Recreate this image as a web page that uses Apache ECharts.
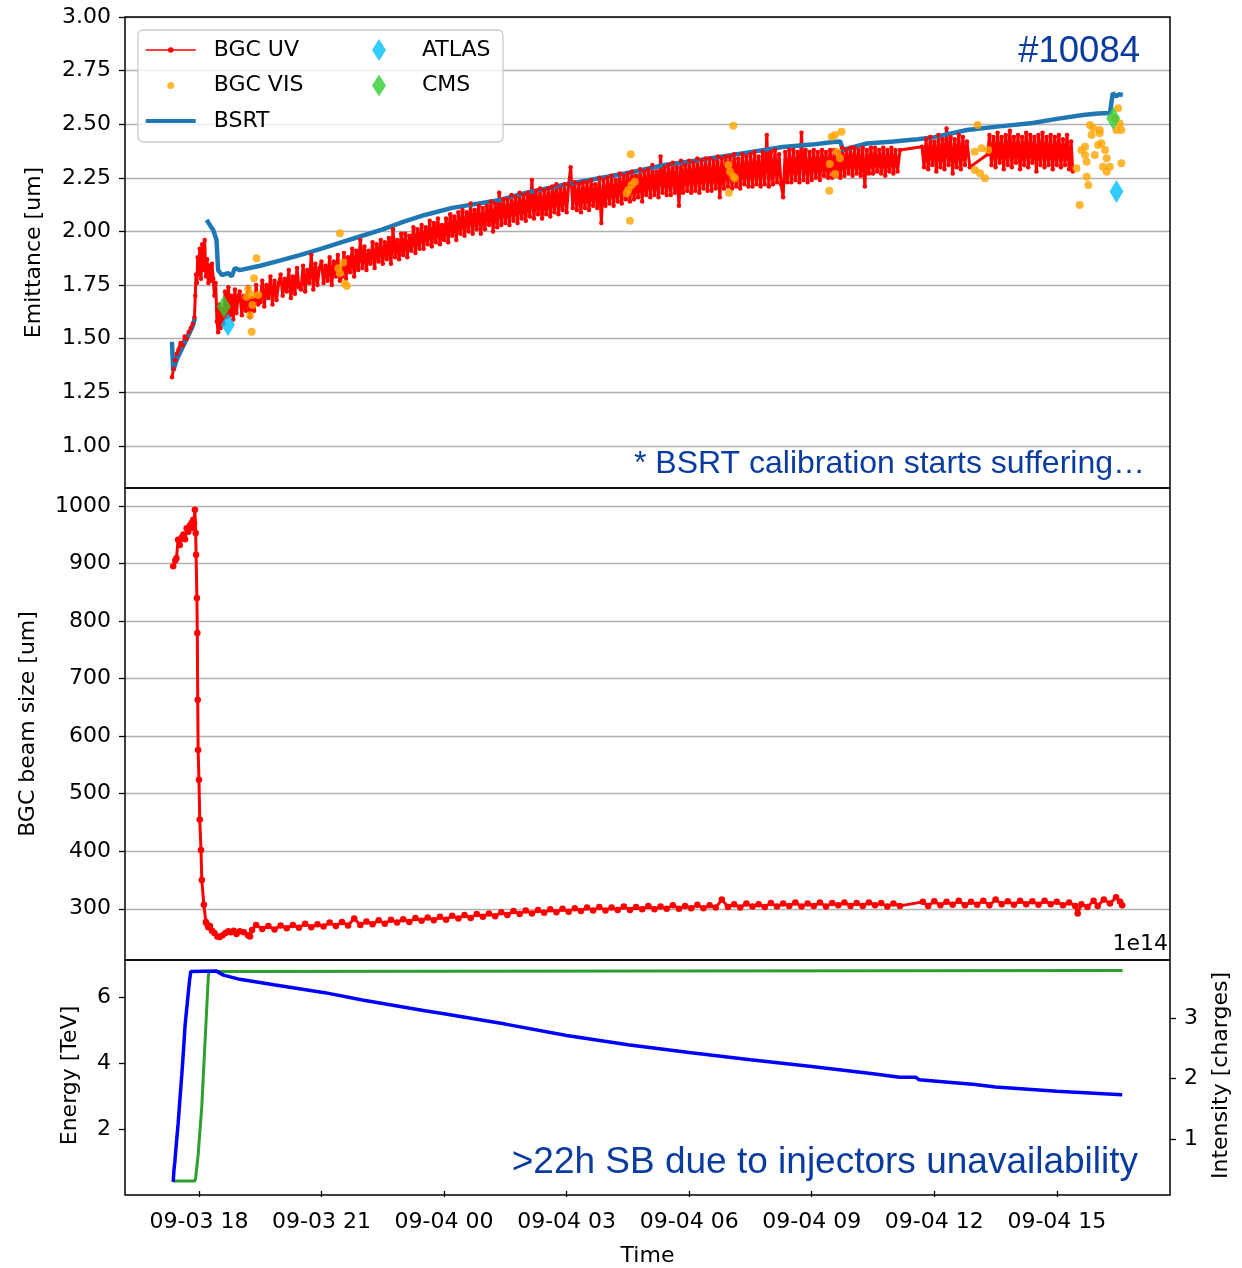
<!DOCTYPE html>
<html><head><meta charset="utf-8">
<script src="https://cdn.jsdelivr.net/npm/echarts@6/dist/echarts.min.js"></script>
<style>html,body{margin:0;padding:0;background:#fff}#c{width:1242px;height:1268px}</style>
</head><body><div id="c"></div>
<script>
// ---- DATA (time in hours since 09-03 00:00) ----
const xTickHours = [18, 21, 24, 27, 30, 33, 36, 39];
const xTickLabels = ['09-03 18', '09-03 21', '09-04 00', '09-04 03', '09-04 06', '09-04 09', '09-04 12', '09-04 15'];
const emitTicks = [1.00, 1.25, 1.50, 1.75, 2.00, 2.25, 2.50, 2.75, 3.00];
const sizeTicks = [300, 400, 500, 600, 700, 800, 900, 1000];
const energyTicks = [2, 4, 6];
const intensityTicks = [1, 2, 3];

const bgcUV = [
[17.34,1.32],[17.38,1.36],[17.42,1.40],[17.46,1.43],[17.50,1.45],[17.55,1.48],[17.60,1.47],[17.65,1.51],[17.70,1.50],[17.75,1.53],[17.80,1.55],[17.85,1.57],[17.89,1.60],[17.91,1.70],[17.93,1.80],[17.95,1.76],[17.97,1.88],[17.99,1.80],[18.02,1.92],[18.05,1.78],[18.08,1.94],[18.11,1.82],[18.14,1.96],[18.17,1.79],[18.20,1.87],[18.23,1.76],[18.26,1.84],[18.29,1.77],[18.32,1.85],[18.35,1.78],[18.38,1.70],[18.41,1.76],[18.44,1.58],[18.47,1.53],[18.50,1.66],[18.53,1.55],[18.56,1.64],[18.60,1.57],[18.64,1.72],[18.68,1.60],[18.72,1.74],[18.76,1.61],[18.80,1.70],[18.84,1.59],[18.88,1.73],[18.92,1.62],[18.96,1.70],
[19.00,1.72],[19.05,1.61],[19.10,1.70],[19.15,1.63],[19.20,1.74],[19.25,1.60],[19.30,1.69],[19.35,1.63],[19.40,1.75],[19.45,1.66],
[19.50,1.67],[19.55,1.77],[19.60,1.65],[19.65,1.75],[19.70,1.69],[19.75,1.79],[19.80,1.66],[19.85,1.77],[19.90,1.68],[19.95,1.76],
[20.00,1.80],[20.05,1.70],[20.10,1.78],[20.15,1.72],[20.20,1.82],[20.25,1.69],[20.30,1.79],[20.35,1.71],[20.40,1.83],[20.45,1.74],
[20.50,1.73],[20.55,1.84],[20.60,1.72],[20.65,1.82],[20.70,1.76],[20.75,1.89],[20.80,1.73],[20.85,1.85],[20.90,1.75],[20.95,1.83],
[21.00,1.86],[21.05,1.76],[21.10,1.84],[21.15,1.77],[21.20,1.88],[21.25,1.75],[21.30,1.86],[21.35,1.79],[21.40,1.89],[21.45,1.77],
[21.50,1.79],[21.55,1.90],[21.60,1.78],[21.65,1.88],[21.70,1.81],[21.75,1.92],[21.80,1.79],[21.85,1.91],[21.90,1.82],[21.95,1.96],
[22.00,1.83],[22.05,1.93],[22.10,1.82],[22.15,1.91],[22.20,1.85],[22.25,1.95],[22.30,1.83],[22.35,1.94],[22.40,1.86],[22.45,1.96],
[22.50,1.85],[22.55,1.95],[22.60,1.87],[22.65,1.97],[22.70,1.85],[22.75,2.01],[22.80,1.88],[22.85,1.96],[22.90,1.87],[22.95,1.99],
[23.00,1.89],[23.05,1.99],[23.10,1.88],[23.15,1.98],[23.20,1.91],[23.25,2.02],[23.30,1.90],[23.35,2.01],[23.40,1.92],[23.45,2.03],
[23.50,1.92],[23.55,2.02],[23.60,1.94],[23.65,2.05],[23.70,1.93],[23.75,2.04],[23.80,1.95],[23.85,2.06],[23.90,1.94],[23.95,2.03],
[24.00,1.96],[24.05,2.06],[24.10,1.95],[24.15,2.08],[24.20,1.98],[24.25,2.07],[24.30,1.96],[24.35,2.09],[24.40,1.99],[24.45,2.10],
[24.50,1.98],[24.55,2.09],[24.60,2.00],[24.65,2.13],[24.70,1.99],[24.75,2.10],[24.80,2.01],[24.85,2.12],[24.90,1.99],[24.95,2.11],
[25.00,2.01],[25.05,2.12],[25.10,2.03],[25.15,2.14],[25.20,2.00],[25.25,2.13],[25.30,2.02],[25.35,2.18],[25.40,2.03],[25.45,2.15],
[25.50,2.04],[25.55,2.15],[25.60,2.03],[25.65,2.17],[25.70,2.05],[25.75,2.16],[25.80,2.04],[25.85,2.18],[25.90,2.06],[25.95,2.17],
[26.00,2.05],[26.05,2.18],[26.10,2.07],[26.15,2.24],[26.20,2.06],[26.25,2.19],[26.30,2.08],[26.35,2.20],[26.40,2.06],[26.45,2.19],
[26.50,2.08],[26.55,2.20],[26.60,2.07],[26.65,2.21],[26.70,2.09],[26.75,2.22],[26.80,2.08],[26.85,2.20],[26.90,2.10],[26.95,2.22],
[27.00,2.09],[27.05,2.22],[27.10,2.30],[27.15,2.11],[27.20,2.23],[27.25,2.10],[27.30,2.22],[27.35,2.09],[27.40,2.23],[27.45,2.11],
[27.50,2.23],[27.55,2.10],[27.60,2.24],[27.65,2.12],[27.70,2.22],[27.75,2.11],[27.80,2.25],[27.85,2.04],[27.90,2.24],[27.95,2.12],
[28.00,2.25],[28.05,2.13],[28.10,2.26],[28.15,2.12],[28.20,2.24],[28.25,2.14],[28.30,2.27],[28.35,2.13],[28.40,2.26],[28.45,2.15],
[28.50,2.27],[28.55,2.14],[28.60,2.28],[28.65,2.15],[28.70,2.26],[28.75,2.16],[28.80,2.29],[28.85,2.14],[28.90,2.28],[28.95,2.17],
[29.00,2.29],[29.05,2.16],[29.10,2.31],[29.15,2.17],[29.20,2.28],[29.25,2.16],[29.30,2.35],[29.35,2.18],[29.40,2.30],[29.45,2.17],
[29.50,2.31],[29.55,2.17],[29.60,2.32],[29.65,2.18],[29.70,2.30],[29.75,2.12],[29.80,2.33],[29.85,2.18],[29.90,2.31],[29.95,2.19],
[30.00,2.33],[30.05,2.18],[30.10,2.32],[30.15,2.19],[30.20,2.34],[30.25,2.18],[30.30,2.33],[30.35,2.20],[30.40,2.34],[30.45,2.19],
[30.50,2.34],[30.55,2.19],[30.60,2.33],[30.65,2.20],[30.70,2.35],[30.75,2.16],[30.80,2.34],[30.85,2.20],[30.90,2.35],[30.95,2.21],
[31.00,2.35],[31.05,2.20],[31.10,2.36],[31.15,2.21],[31.20,2.34],[31.25,2.20],[31.30,2.36],[31.35,2.22],[31.40,2.35],[31.45,2.21],
[31.50,2.36],[31.55,2.21],[31.60,2.37],[31.65,2.22],[31.70,2.35],[31.75,2.21],[31.80,2.37],[31.85,2.22],[31.90,2.45],[31.95,2.21],
[32.00,2.37],[32.05,2.22],[32.10,2.38],[32.15,2.23],[32.20,2.36],[32.25,2.22],[32.30,2.16],[32.35,2.37],[32.40,2.23],[32.45,2.38],
[32.50,2.23],[32.55,2.38],[32.60,2.24],[32.65,2.37],[32.70,2.23],[32.75,2.46],[32.80,2.24],[32.85,2.38],[32.90,2.23],[32.95,2.37],
[33.00,2.24],[33.05,2.38],[33.10,2.25],[33.15,2.37],[33.20,2.24],[33.25,2.38],[33.30,2.26],[33.35,2.37],[33.40,2.25],[33.45,2.38],
[33.50,2.25],[33.55,2.38],[33.60,2.26],[33.65,2.37],[33.70,2.25],[33.75,2.39],[33.80,2.26],[33.85,2.38],[33.90,2.27],[33.95,2.39],
[34.00,2.26],[34.05,2.39],[34.10,2.27],[34.15,2.38],[34.20,2.26],[34.25,2.39],[34.30,2.21],[34.35,2.38],[34.40,2.27],[34.45,2.39],
[34.50,2.27],[34.55,2.39],[34.60,2.28],[34.65,2.38],[34.70,2.27],[34.75,2.39],[34.80,2.26],[34.85,2.38],[34.90,2.28],[34.95,2.39],[35.00,2.27],[35.05,2.38],[35.10,2.28],[35.16,2.38],
[35.70,2.395],[35.75,2.30],[35.80,2.43],[35.85,2.29],[35.90,2.44],[35.95,2.31],[36.00,2.42],[36.05,2.28],[36.10,2.45],[36.15,2.30],[36.20,2.43],[36.25,2.29],[36.30,2.48],[36.35,2.31],[36.40,2.44],[36.45,2.27],[36.50,2.43],[36.55,2.30],[36.60,2.45],[36.65,2.29],[36.70,2.44],[36.75,2.31],[36.80,2.42],[36.87,2.30],
[37.31,2.36],[37.35,2.45],[37.40,2.31],[37.45,2.44],[37.50,2.30],[37.55,2.46],[37.60,2.32],[37.65,2.44],[37.70,2.29],[37.75,2.45],[37.80,2.31],[37.85,2.47],[37.90,2.30],[37.95,2.44],[38.00,2.32],[38.05,2.45],[38.10,2.29],[38.15,2.44],[38.20,2.31],[38.25,2.46],[38.30,2.30],[38.35,2.45],[38.40,2.32],[38.45,2.44],[38.50,2.28],[38.55,2.45],[38.60,2.31],[38.65,2.46],[38.70,2.30],[38.75,2.44],[38.80,2.31],[38.85,2.45],[38.90,2.29],[38.95,2.44],[39.00,2.31],[39.05,2.45],[39.10,2.30],[39.15,2.43],[39.20,2.31],[39.25,2.45],[39.30,2.29],[39.35,2.42],[39.39,2.28]
];

const bgcVIS = [
[19.41,1.875],[19.35,1.782],[19.21,1.730],[19.17,1.696],[19.29,1.704],[19.45,1.704],[19.31,1.657],[19.25,1.610],[19.29,1.533],
[21.45,1.992],[21.53,1.855],[21.41,1.828],[21.45,1.805],[21.57,1.758],[21.62,1.746],
[28.57,2.360],[28.55,2.050],[28.51,2.193],[28.47,2.178],[28.59,2.217],[28.67,2.232],
[31.08,2.493],[30.96,2.310],[31.00,2.279],[31.08,2.256],[31.12,2.248],[30.97,2.181],
[33.49,2.442],[33.57,2.450],[33.73,2.465],[33.61,2.372],[33.69,2.341],[33.44,2.315],[33.57,2.268],[33.43,2.190],
[37.06,2.497],[36.99,2.372],[37.16,2.388],[37.32,2.380],[36.99,2.287],[37.12,2.271],[37.24,2.248],
[39.56,2.124],[39.48,2.295],[39.60,2.380],[39.73,2.255],[39.77,2.217],[39.69,2.357],[39.81,2.497],[39.89,2.481],[40.05,2.473],[39.85,2.450],[39.93,2.357],[40.05,2.458],[40.09,2.411],[40.18,2.380],[40.22,2.341],[40.30,2.302],[40.01,2.403],[40.13,2.302],[40.22,2.279],[39.73,2.325],[40.50,2.574],[40.42,2.528],[40.46,2.473],[40.58,2.473],[40.54,2.504],[40.58,2.318],[39.69,2.395]
];

const bsrt = [
[17.34,1.486],[17.37,1.35],[17.45,1.40],[17.55,1.44],[17.65,1.48],[17.75,1.52],[17.85,1.56],[17.90,1.595],[17.95,'-'],
[18.19,2.054],[18.30,2.02],[18.35,2.007],[18.43,1.96],[18.47,1.82],[18.56,1.797],[18.72,1.806],[18.80,1.79],[18.88,1.83],[19.00,1.82],[19.5,1.84],[20.0,1.865],[20.47,1.89],[21.0,1.92],[21.5,1.95],[22.0,1.98],[22.5,2.01],[23.0,2.045],[23.53,2.077],[24.2,2.11],[25.37,2.147],[26.0,2.18],[27.0,2.22],[28.0,2.255],[28.62,2.277],[29.4,2.31],[30.26,2.333],[31.49,2.37],[32.29,2.394],[33.0,2.405],[33.52,2.417],[33.70,2.42],[33.76,2.38],[34.35,2.41],[35.0,2.42],[35.6,2.43],[36.0,2.44],[36.8,2.473],[37.6,2.49],[38.41,2.506],[39.0,2.525],[39.64,2.543],[40.0,2.55],[40.30,2.552],[40.37,2.645],[40.45,2.63],[40.53,2.64],[40.615,2.636]
];

const atlas = [[18.71,1.565],[40.46,2.186]];
const cms = [[18.61,1.65],[40.38,2.528]];

const bgcSize = [
[17.37,895],[17.42,905],[17.45,909],[17.49,941],[17.53,932],[17.58,945],[17.62,950],[17.66,942],[17.70,961],[17.74,955],[17.78,966],[17.82,970],[17.84,962],[17.86,976],[17.88,970],[17.90,993],[17.92,953],[17.93,915],[17.95,840],[17.96,779],[17.97,663],[17.98,576],[18.00,524],[18.02,455],[18.05,402],[18.07,350],[18.12,307],[18.17,277],[18.19,274],[18.23,268],[18.27,270],[18.32,262],[18.38,258],[18.45,252],[18.51,251],[18.58,254],[18.65,258],[18.72,261],[18.78,259],[18.85,262],[18.92,256],[19.0,261],[19.1,259],[19.2,254],[19.25,252],[19.3,263],
[19.40,272],[19.55,265],[19.70,270],[19.85,264],[20.00,271],[20.15,266],[20.30,272],[20.45,267],[20.60,274],[20.75,268],[20.90,273],[21.05,269],[21.20,276],[21.35,270],[21.50,277],[21.65,271],[21.80,283],[21.95,272],[22.10,278],[22.25,273],[22.40,280],[22.55,274],[22.70,281],[22.85,276],[23.00,282],[23.15,277],[23.30,284],[23.45,279],[23.60,285],[23.75,280],[23.90,286],[24.05,281],[24.20,288],[24.35,283],[24.50,289],[24.65,284],[24.80,291],[24.95,286],[25.10,292],[25.25,287],[25.40,294],[25.55,289],[25.70,296],[25.85,291],[26.00,297],[26.15,292],[26.30,298],[26.45,293],[26.60,299],[26.75,294],[26.90,300],[27.05,295],[27.20,301],[27.35,296],[27.50,302],[27.65,297],[27.80,303],[27.95,297],[28.10,302],[28.25,298],[28.40,304],[28.55,298],[28.70,303],[28.85,299],[29.00,305],[29.15,299],[29.30,304],[29.45,300],[29.60,306],[29.75,300],[29.90,305],[30.05,301],[30.20,307],[30.35,301],[30.50,306],[30.65,302],[30.80,316],[30.95,303],[31.10,308],[31.25,302],[31.40,309],[31.55,304],[31.70,308],[31.85,303],[32.00,310],[32.15,304],[32.30,309],[32.45,305],[32.60,311],[32.75,304],[32.90,309],[33.05,305],[33.20,311],[33.35,304],[33.50,310],[33.65,306],[33.80,311],[33.95,305],[34.10,310],[34.25,305],[34.40,311],[34.55,306],[34.70,310],[34.85,304],[35.00,309],[35.16,305],
[35.72,312],[35.85,305],[36.00,313],[36.15,306],[36.30,312],[36.45,307],[36.60,314],[36.75,306],[36.90,312],[37.05,307],[37.20,314],[37.35,306],[37.50,316],[37.65,308],[37.80,313],[37.95,307],[38.10,314],[38.25,308],[38.40,313],[38.55,307],[38.70,314],[38.85,308],[39.00,312],[39.15,306],[39.30,311],[39.45,305],[39.51,292],[39.60,308],[39.75,303],[39.90,314],[40.00,305],[40.15,316],[40.30,309],[40.45,320],[40.55,312],[40.60,306]
];

const energy = [[17.37,0.45],[17.90,0.45],[17.92,0.55],[17.98,1.24],[18.07,2.71],[18.15,4.67],[18.23,6.63],[18.25,6.77],[18.27,6.8],[40.61,6.8]];

const intensity = [
[17.37,0.29],[17.39,0.50],[17.41,0.62],[17.45,0.95],[17.49,1.25],[17.53,1.62],[17.58,2.06],[17.62,2.45],[17.66,2.875],[17.70,3.15],[17.74,3.42],[17.77,3.62],[17.80,3.77],[18.42,3.78],[18.6,3.71],[19.0,3.64],[19.83,3.55],[21.08,3.42],[22.0,3.30],[23.53,3.12],[24.0,3.07],[25.5,2.90],[27.0,2.71],[28.5,2.56],[30.0,2.43],[31.5,2.31],[33.0,2.20],[34.5,2.08],[35.15,2.02],[35.55,2.02],[35.63,1.98],[37.0,1.90],[37.5,1.86],[39.0,1.79],[40.6,1.73]
];

// ---- CHART ----
const FONT = 'DejaVu Sans';
const ANN = 'Liberation Sans';
const ANN_COLOR = '#0a3ca0';
const X_MIN = 16.19, X_MAX = 41.77;
const tickStyle = {show: true, length: 6, lineStyle: {color: '#000', width: 1.3}};
const labelStyle = {fontFamily: FONT, fontSize: 22, color: '#000'};
const nameStyle = {fontFamily: FONT, fontSize: 22, color: '#000'};

function xLabel(v) {
  for (let i = 0; i < xTickHours.length; i++) if (Math.abs(xTickHours[i] - v) < 1e-6) return xTickLabels[i];
  return '';
}
function mkX(i, show) {
  return {
    type: 'value', gridIndex: i, min: X_MIN, max: X_MAX, minInterval: 3, maxInterval: 3, splitNumber: 8,
    axisLine: {show: false}, splitLine: {show: false},
    axisTick: Object.assign({}, tickStyle, {show: show, customValues: xTickHours}),
    axisLabel: Object.assign({}, labelStyle, {show: show, customValues: xTickHours, formatter: xLabel, margin: 20}),
    name: show ? 'Time' : '', nameLocation: 'middle', nameGap: 54, nameTextStyle: nameStyle
  };
}
function mkY(min, max, step, ticks, fmt, name, gap, pos, grid) {
  return {
    type: 'value', gridIndex: grid, position: pos, min: min, max: max, minInterval: step, maxInterval: step,
    axisLine: {show: false},
    splitLine: {show: grid < 2, lineStyle: {color: '#b0b0b0', width: 1.3}},
    axisTick: Object.assign({}, tickStyle, {customValues: ticks}),
    axisLabel: Object.assign({}, labelStyle, {customValues: ticks, formatter: fmt, margin: 14, padding: [3, 0, 0, 0]}),
    name: name, nameLocation: 'middle', nameGap: gap, nameRotate: 90, nameTextStyle: nameStyle
  };
}

const chart = echarts.init(document.getElementById('c'), null, {renderer: 'canvas'});
const diamondIcon = 'path://M7,0L14,11L7,22L0,11Z';
const barIcon = 'path://M0,0H50V4H0Z';
chart.setOption({
  animation: false,
  backgroundColor: '#fff',
  grid: [
    {left: 125, top: 17, width: 1045, height: 471},
    {left: 125, top: 488, width: 1045, height: 472},
    {left: 125, top: 960, width: 1045, height: 235}
  ],
  xAxis: [mkX(0, false), mkX(1, false), mkX(2, true)],
  yAxis: [
    mkY(0.804, 3.0, 0.25, emitTicks, v => v.toFixed(2), 'Emittance [um]', 80, 'left', 0),
    mkY(211, 1031, 100, sizeTicks, v => String(Math.round(v)), 'BGC beam size [um]', 86, 'left', 1),
    mkY(0.15, 7.12, 2, energyTicks, v => String(Math.round(v)), 'Energy [TeV]', 44, 'left', 2),
    mkY(0.14, 3.96, 1, intensityTicks, v => String(Math.round(v)), 'Intensity [charges]', 40, 'right', 2)
  ],
  legend: [
    {data: ['BGC UV', 'BGC VIS', {name: 'BSRT', icon: barIcon}], left: 145, top: 37, orient: 'vertical', padding: 0,
     itemWidth: 50, itemHeight: 7, itemGap: 9.5, selectedMode: false, z: 6, lineStyle: {width: 1.5},
     textStyle: {fontFamily: FONT, fontSize: 22, color: '#000', lineHeight: 26, padding: [0, 0, 0, 13]}},
    {data: [{name: 'ATLAS', icon: diamondIcon}, {name: 'CMS', icon: diamondIcon}], left: 372, top: 37, orient: 'vertical', padding: 0,
     itemWidth: 50, itemHeight: 22, itemGap: 9.5, selectedMode: false, z: 6,
     textStyle: {fontFamily: FONT, fontSize: 22, color: '#000', lineHeight: 26, padding: [0, 0, 0, 13]}}
  ],
  series: [
    {name: 'BGC UV', type: 'line', xAxisIndex: 0, yAxisIndex: 0, data: bgcUV, color: '#ff0000',
     lineStyle: {width: 3}, symbol: 'circle', symbolSize: 4.5, showSymbol: true, showAllSymbol: true, z: 2},
    {name: 'BGC VIS', type: 'scatter', xAxisIndex: 0, yAxisIndex: 0, data: bgcVIS, color: '#ffa500',
     symbol: 'circle', symbolSize: 8, z: 2},
    {name: 'BSRT', type: 'line', xAxisIndex: 0, yAxisIndex: 0, data: bsrt, color: '#1f77b4',
     lineStyle: {width: 4.5}, symbol: 'none', connectNulls: false, z: 2},
    {name: 'ATLAS', type: 'scatter', xAxisIndex: 0, yAxisIndex: 0, data: atlas, color: '#00bfff',
     symbol: 'diamond', symbolSize: [14, 23], z: 2},
    {name: 'CMS', type: 'scatter', xAxisIndex: 0, yAxisIndex: 0, data: cms, color: '#32cd32',
     symbol: 'diamond', symbolSize: [14, 23], z: 2},
    {name: 'BGC size', type: 'line', xAxisIndex: 1, yAxisIndex: 1, data: bgcSize, color: '#ff0000',
     lineStyle: {width: 3}, symbol: 'circle', symbolSize: 6.5, showSymbol: true, showAllSymbol: true},
    {name: 'Energy', type: 'line', xAxisIndex: 2, yAxisIndex: 2, data: energy, color: '#2ca02c',
     lineStyle: {width: 3}, symbol: 'none'},
    {name: 'Intensity', type: 'line', xAxisIndex: 2, yAxisIndex: 3, data: intensity, color: '#0000ff',
     lineStyle: {width: 3.5}, symbol: 'none'}
  ],
  graphic: [
    {type: 'rect', z: 3, shape: {x: 138, y: 30, width: 365, height: 112, r: 5},
     style: {fill: 'rgba(255,255,255,0.8)', stroke: '#cccccc', lineWidth: 1.3}},
    {type: 'rect', z: 10, shape: {x: 125, y: 17, width: 1045, height: 471}, style: {fill: 'none', stroke: '#000', lineWidth: 1.5}},
    {type: 'rect', z: 10, shape: {x: 125, y: 488, width: 1045, height: 472}, style: {fill: 'none', stroke: '#000', lineWidth: 1.5}},
    {type: 'rect', z: 10, shape: {x: 125, y: 960, width: 1045, height: 235}, style: {fill: 'none', stroke: '#000', lineWidth: 1.5}},
    {type: 'text', z: 10, x: 1140, y: 52, style: {text: '#10084', fontFamily: ANN, fontSize: 36.5, fill: ANN_COLOR, align: 'right', verticalAlign: 'middle'}},
    {type: 'text', z: 10, x: 1145, y: 464, style: {text: '* BSRT calibration starts suffering\u2026', fontFamily: ANN, fontSize: 32, fill: ANN_COLOR, align: 'right', verticalAlign: 'middle'}},
    {type: 'text', z: 10, x: 1138, y: 1163, style: {text: '>22h SB due to injectors unavailability', fontFamily: ANN, fontSize: 37, fill: ANN_COLOR, align: 'right', verticalAlign: 'middle'}},
    {type: 'text', z: 10, x: 1168, y: 944, style: {text: '1e14', fontFamily: FONT, fontSize: 22, fill: '#000', align: 'right', verticalAlign: 'middle'}}
  ]
});
</script></body></html>
